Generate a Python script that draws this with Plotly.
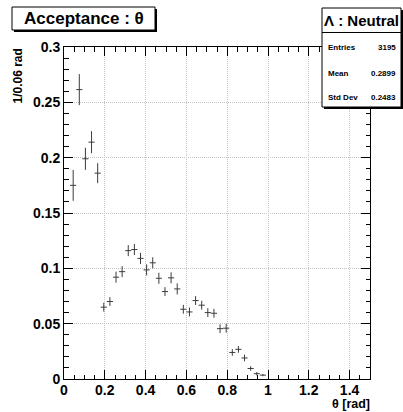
import plotly.graph_objects as go

# ---- data ----
theta_centers = [0.045, 0.075, 0.105, 0.135, 0.165, 0.195, 0.225, 0.255, 0.285, 0.315,
                 0.345, 0.375, 0.405, 0.435, 0.465, 0.495, 0.525, 0.555, 0.585, 0.615,
                 0.645, 0.675, 0.705, 0.735, 0.765, 0.795, 0.825, 0.855, 0.885, 0.915,
                 0.945, 0.975]
acceptance = [0.175, 0.2615, 0.199, 0.214, 0.186, 0.0649, 0.070, 0.092, 0.097, 0.116,
              0.117, 0.109, 0.0986, 0.105, 0.091, 0.079, 0.0914, 0.0814, 0.063, 0.0606,
              0.0709, 0.0667, 0.0600, 0.0594, 0.0455, 0.0459, 0.0240, 0.0268, 0.0190, 0.0095,
              0.0048, 0.0035]
acc_err = [0.014, 0.014, 0.010, 0.010, 0.009, 0.004, 0.004, 0.005, 0.005, 0.005,
           0.005, 0.005, 0.005, 0.005, 0.005, 0.004, 0.005, 0.005, 0.004, 0.004,
           0.004, 0.004, 0.004, 0.004, 0.004, 0.004, 0.003, 0.003, 0.003, 0.002,
           0.0015, 0.001]
bin_width = 0.03
x_tick_vals = [0, 0.2, 0.4, 0.6, 0.8, 1.0, 1.2, 1.4]
x_tick_text = ["0", "0.2", "0.4", "0.6", "0.8", "1", "1.2", "1.4"]
y_tick_vals = [0, 0.05, 0.1, 0.15, 0.2, 0.25, 0.3]
y_tick_text = ["0", "0.05", "0.1", "0.15", "0.2", "0.25", "0.3"]
stats_labels = ["Entries", "Mean", "Std Dev"]
stats_values = ["3195", "0.2899", "0.2483"]

# ---- layout geometry (pixels) ----
W, H = 403, 412
L, R, T, B = 64, 370, 47, 379
pw, ph = R - L, B - T


def px(xp):
    return (xp - L) / pw


def py(yp):
    return (B - yp) / ph


FONT = "Liberation Sans"
col = "#3c3c3c"

fig = go.Figure()
fig.add_trace(go.Scatter(
    x=theta_centers, y=acceptance, mode="markers",
    marker=dict(size=0, color=col, opacity=0),
    error_y=dict(type="data", array=acc_err, color=col, thickness=1, width=0),
    error_x=dict(type="data", array=[bin_width / 2] * len(theta_centers),
                 color=col, thickness=1, width=0),
    showlegend=False, hoverinfo="skip",
))

axis_common = dict(
    showline=True, linecolor="black", linewidth=1, mirror="ticks",
    ticks="inside", ticklen=9, tickwidth=1, tickcolor="black",
    showgrid=True, gridcolor="#c4c4c4", griddash="1px,1px", gridwidth=1,
    zeroline=False,
    tickfont=dict(family=FONT, size=14, color="black", weight="bold"),
)

fig.update_xaxes(range=[0, 1.5], tickvals=x_tick_vals, ticktext=x_tick_text,
                 ticklabelstandoff=-2,
                 minor=dict(ticks="inside", ticklen=4.5, tickwidth=1, tickcolor="black",
                            dtick=0.05, tick0=0, showgrid=False),
                 **axis_common)
fig.update_yaxes(range=[0, 0.3], tickvals=y_tick_vals, ticktext=y_tick_text,
                 minor=dict(ticks="inside", ticklen=4.5, tickwidth=1, tickcolor="black",
                            dtick=0.01, tick0=0, showgrid=False),
                 **axis_common)

shapes = []
# title box with shadow
shapes.append(dict(type="rect", xref="paper", yref="paper",
                   x0=px(14), x1=px(157), y0=py(32), y1=py(9),
                   fillcolor="black", line=dict(width=0), layer="above"))
shapes.append(dict(type="rect", xref="paper", yref="paper",
                   x0=px(12), x1=px(155), y0=py(30), y1=py(7),
                   fillcolor="white", line=dict(color="black", width=1), layer="above"))
# stats box with shadow
shapes.append(dict(type="rect", xref="paper", yref="paper",
                   x0=px(324), x1=px(403), y0=py(109), y1=py(10),
                   fillcolor="black", line=dict(width=0), layer="above"))
shapes.append(dict(type="rect", xref="paper", yref="paper",
                   x0=px(322), x1=px(401), y0=py(107), y1=py(8),
                   fillcolor="white", line=dict(color="black", width=1), layer="above"))
shapes.append(dict(type="line", xref="paper", yref="paper",
                   x0=px(322), x1=px(401), y0=py(32.5), y1=py(32.5),
                   line=dict(color="black", width=1), layer="above"))

ann = []
ann.append(dict(text="Acceptance : θ", xref="paper", yref="paper",
                x=px(83.5), y=py(18.5), xanchor="center", yanchor="middle",
                showarrow=False, font=dict(family=FONT, size=17, color="black", weight="bold")))
ann.append(dict(text="Λ : Neutral", xref="paper", yref="paper",
                x=px(361.5), y=py(20.5), xanchor="center", yanchor="middle",
                showarrow=False, font=dict(family=FONT, size=15, color="black", weight="bold")))
row_y = [47, 73, 97]
for lab, val, yy in zip(stats_labels, stats_values, row_y):
    ann.append(dict(text=lab, xref="paper", yref="paper", x=px(326), y=py(yy),
                    xanchor="left", yanchor="middle", showarrow=False,
                    font=dict(family=FONT, size=8, color="black", weight="bold")))
    ann.append(dict(text=val, xref="paper", yref="paper", x=px(398), y=py(yy),
                    xanchor="right", yanchor="middle", showarrow=False,
                    font=dict(family=FONT, size=8, color="black", weight="bold")))
# axis titles
ann.append(dict(text="1/0.06 rad", xref="paper", yref="paper", x=px(17), y=py(47),
                xanchor="center", yanchor="top", textangle=-90, showarrow=False,
                font=dict(family=FONT, size=12, color="black", weight="bold")))
ann.append(dict(text="θ [rad]", xref="paper", yref="paper", x=px(371), y=py(412),
                xanchor="right", yanchor="bottom", showarrow=False, borderpad=0,
                font=dict(family=FONT, size=12.5, color="black", weight="bold")))

fig.update_layout(
    width=W, height=H, autosize=False,
    margin=dict(l=L, r=W - R, t=T, b=H - B, pad=0),
    paper_bgcolor="white", plot_bgcolor="white",
    shapes=shapes, annotations=ann, showlegend=False,
)

fig.write_html("out.html")
